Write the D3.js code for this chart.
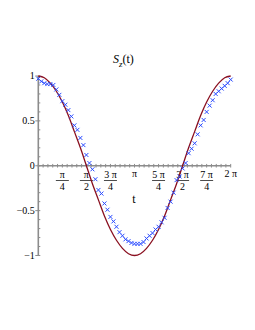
<!DOCTYPE html>
<meta charset="utf-8">
<script src="https://d3js.org/d3.v7.min.js"></script>
<style>
  body { margin: 0; background: #fff; }
</style>
<div id="chart"></div>
<script>
    var PI = Math.PI;

    var pointT = [0, 0.03125, 0.0625, 0.09375, 0.125, 0.15625, 0.1875, 0.21875, 0.25, 0.28125,
      0.3125, 0.34375, 0.375, 0.40625, 0.4375, 0.46875, 0.5, 0.53125, 0.5625, 0.59375,
      0.625, 0.65625, 0.6875, 0.71875, 0.75, 0.78125, 0.8125, 0.84375, 0.875, 0.90625,
      0.9375, 0.96875, 1, 1.03125, 1.0625, 1.09375, 1.125, 1.15625, 1.1875, 1.21875,
      1.25, 1.28125, 1.3125, 1.34375, 1.375, 1.40625, 1.4375, 1.46875, 1.5, 1.53125,
      1.5625, 1.59375, 1.625, 1.65625, 1.6875, 1.71875, 1.75, 1.78125, 1.8125, 1.84375,
      1.875, 1.90625, 1.9375, 1.96875, 2];
    var pointS = [0.97, 0.94, 0.92, 0.91, 0.91, 0.90, 0.85, 0.79, 0.72, 0.68,
      0.62, 0.55, 0.45, 0.40, 0.31, 0.23, 0.12, 0.03, -0.04, -0.15,
      -0.27, -0.31, -0.42, -0.49, -0.57, -0.62, -0.68, -0.74, -0.78, -0.82,
      -0.84, -0.86, -0.87, -0.87, -0.87, -0.85, -0.81, -0.78, -0.75, -0.71,
      -0.68, -0.63, -0.58, -0.47, -0.40, -0.30, -0.16, -0.12, -0.03, 0.03,
      0.14, 0.19, 0.25, 0.35, 0.45, 0.51, 0.60, 0.67, 0.73, 0.80,
      0.83, 0.86, 0.89, 0.92, 0.96];

    // model curve, read at steps of pi/16
    var curveT = [0, 0.0625, 0.125, 0.1875, 0.25, 0.3125, 0.375, 0.4375, 0.5, 0.5625,
      0.625, 0.6875, 0.75, 0.8125, 0.875, 0.9375, 1, 1.0625, 1.125, 1.1875,
      1.25, 1.3125, 1.375, 1.4375, 1.5, 1.5625, 1.625, 1.6875, 1.75, 1.8125,
      1.875, 1.9375, 2];
    var curveS = [1, 0.98, 0.92, 0.83, 0.71, 0.56, 0.38, 0.2, 0, -0.2,
      -0.38, -0.56, -0.71, -0.83, -0.92, -0.98, -1, -0.98, -0.92, -0.83,
      -0.71, -0.56, -0.38, -0.2, 0, 0.2, 0.38, 0.56, 0.71, 0.83,
      0.92, 0.98, 1];

    // x tick labels (numerator, denominator) at multiples of pi/4
    var xTickNum = ["π", "π", "3 π", "π", "5 π", "3 π", "7 π", "2 π"];
    var xTickDen = ["4", "2", "4", "", "4", "2", "4", ""];
    var yTicks = [1, 0.5, 0, -0.5, -1];
    var yTickLabels = ["1", "0.5", "0", "\u22120.5", "\u22121"];

    var width = 255, height = 330;
    var serif = "'Liberation Serif', 'Times New Roman', 'DejaVu Serif', serif";

    var svg = d3.select("#chart")
      .append("svg")
        .attr("width", width)
        .attr("height", height)
        .attr("font-family", serif);

    var x = d3.scaleLinear()
      .domain([0, 2 * PI])
      .range([38.3, 230.7]);

    var y = d3.scaleLinear()
      .domain([-1, 1])
      .range([255.5, 76]);

    var axisColor = "#8c8c8c";

    // x axis with minor ticks
    var xMinor = d3.range(0, 41).map(function(i) { return i * PI / 20; });
    svg.append("line")
      .attr("x1", x(0)).attr("x2", x(2 * PI))
      .attr("y1", y(0)).attr("y2", y(0))
      .attr("stroke", axisColor).attr("stroke-width", 1.6);
    svg.append("g").selectAll("line")
      .data(xMinor)
      .enter().append("line")
        .attr("x1", function(d) { return x(d); })
        .attr("x2", function(d) { return x(d); })
        .attr("y1", y(0) - 1.8)
        .attr("y2", y(0) + 1.8)
        .attr("stroke", axisColor)
        .attr("stroke-width", 1);

    // y axis with minor ticks
    var yMinor = d3.range(-10, 11).map(function(i) { return i / 10; });
    svg.append("line")
      .attr("x1", x(0)).attr("x2", x(0))
      .attr("y1", y(-1)).attr("y2", y(1))
      .attr("stroke", axisColor).attr("stroke-width", 1.6);
    svg.append("g").selectAll("line")
      .data(yMinor)
      .enter().append("line")
        .attr("x1", function(d) { return x(0) - (Math.abs(d * 2 - Math.round(d * 2)) < 1e-6 ? 3 : 0); })
        .attr("x2", x(0) + 2)
        .attr("y1", function(d) { return y(d); })
        .attr("y2", function(d) { return y(d); })
        .attr("stroke", axisColor)
        .attr("stroke-width", 1);

    svg.append("g").selectAll("text")
      .data(yTicks)
      .enter().append("text")
        .attr("x", x(0) - 3.5)
        .attr("y", function(d) { return y(d) + 3.2; })
        .attr("text-anchor", "end")
        .attr("font-size", "10px")
        .text(function(d, i) { return yTickLabels[i]; });

    // fraction labels on x axis
    var xl = svg.append("g").selectAll("g")
      .data(xTickNum)
      .enter().append("g")
        .attr("transform", function(d, i) { return "translate(" + x((i + 1) * PI / 4) + ",0)"; });
    xl.append("text")
      .attr("y", function(d, i) { return xTickDen[i] ? 177.5 : 176.5; })
      .attr("text-anchor", "middle")
      .attr("font-size", "10px")
      .text(function(d) { return d; });
    xl.filter(function(d, i) { return xTickDen[i] !== ""; })
      .append("line")
        .attr("x1", -6.5).attr("x2", 6.5)
        .attr("y1", 180.5).attr("y2", 180.5)
        .attr("stroke", "#000").attr("stroke-width", 0.7);
    xl.append("text")
      .attr("y", 190)
      .attr("text-anchor", "middle")
      .attr("font-size", "10px")
      .text(function(d, i) { return xTickDen[i]; });

    svg.append("text")
      .attr("x", 134)
      .attr("y", 203)
      .attr("text-anchor", "middle")
      .attr("font-size", "12px")
      .text("t");

    // title S_z(t)
    var title = svg.append("text")
      .attr("x", 113)
      .attr("y", 63)
      .attr("font-size", "12px");
    title.append("tspan").attr("font-style", "italic").text("S");
    title.append("tspan").attr("font-style", "italic").attr("font-size", "9px").attr("dy", 4).text("z");
    title.append("tspan").attr("dy", -4).text("(t)");

    // model curve
    var line = d3.line()
      .x(function(d, i) { return x(curveT[i] * PI); })
      .y(function(d) { return y(d); })
      .curve(d3.curveCatmullRom);
    svg.append("path")
      .datum(curveS)
      .attr("d", line)
      .attr("fill", "none")
      .attr("stroke", "#8a1020")
      .attr("stroke-width", 1.3);

    // measured points as crosses
    svg.append("g").selectAll("path")
      .data(pointS)
      .enter().append("path")
        .attr("d", function(d, i) {
          var cx = x(pointT[i] * PI), cy = y(d), r = 2;
          return "M" + (cx - r) + "," + (cy - r) + "L" + (cx + r) + "," + (cy + r) +
                 "M" + (cx - r) + "," + (cy + r) + "L" + (cx + r) + "," + (cy - r);
        })
        .attr("stroke", "#2a4bff")
        .attr("stroke-width", 1)
        .attr("fill", "none");
</script>
